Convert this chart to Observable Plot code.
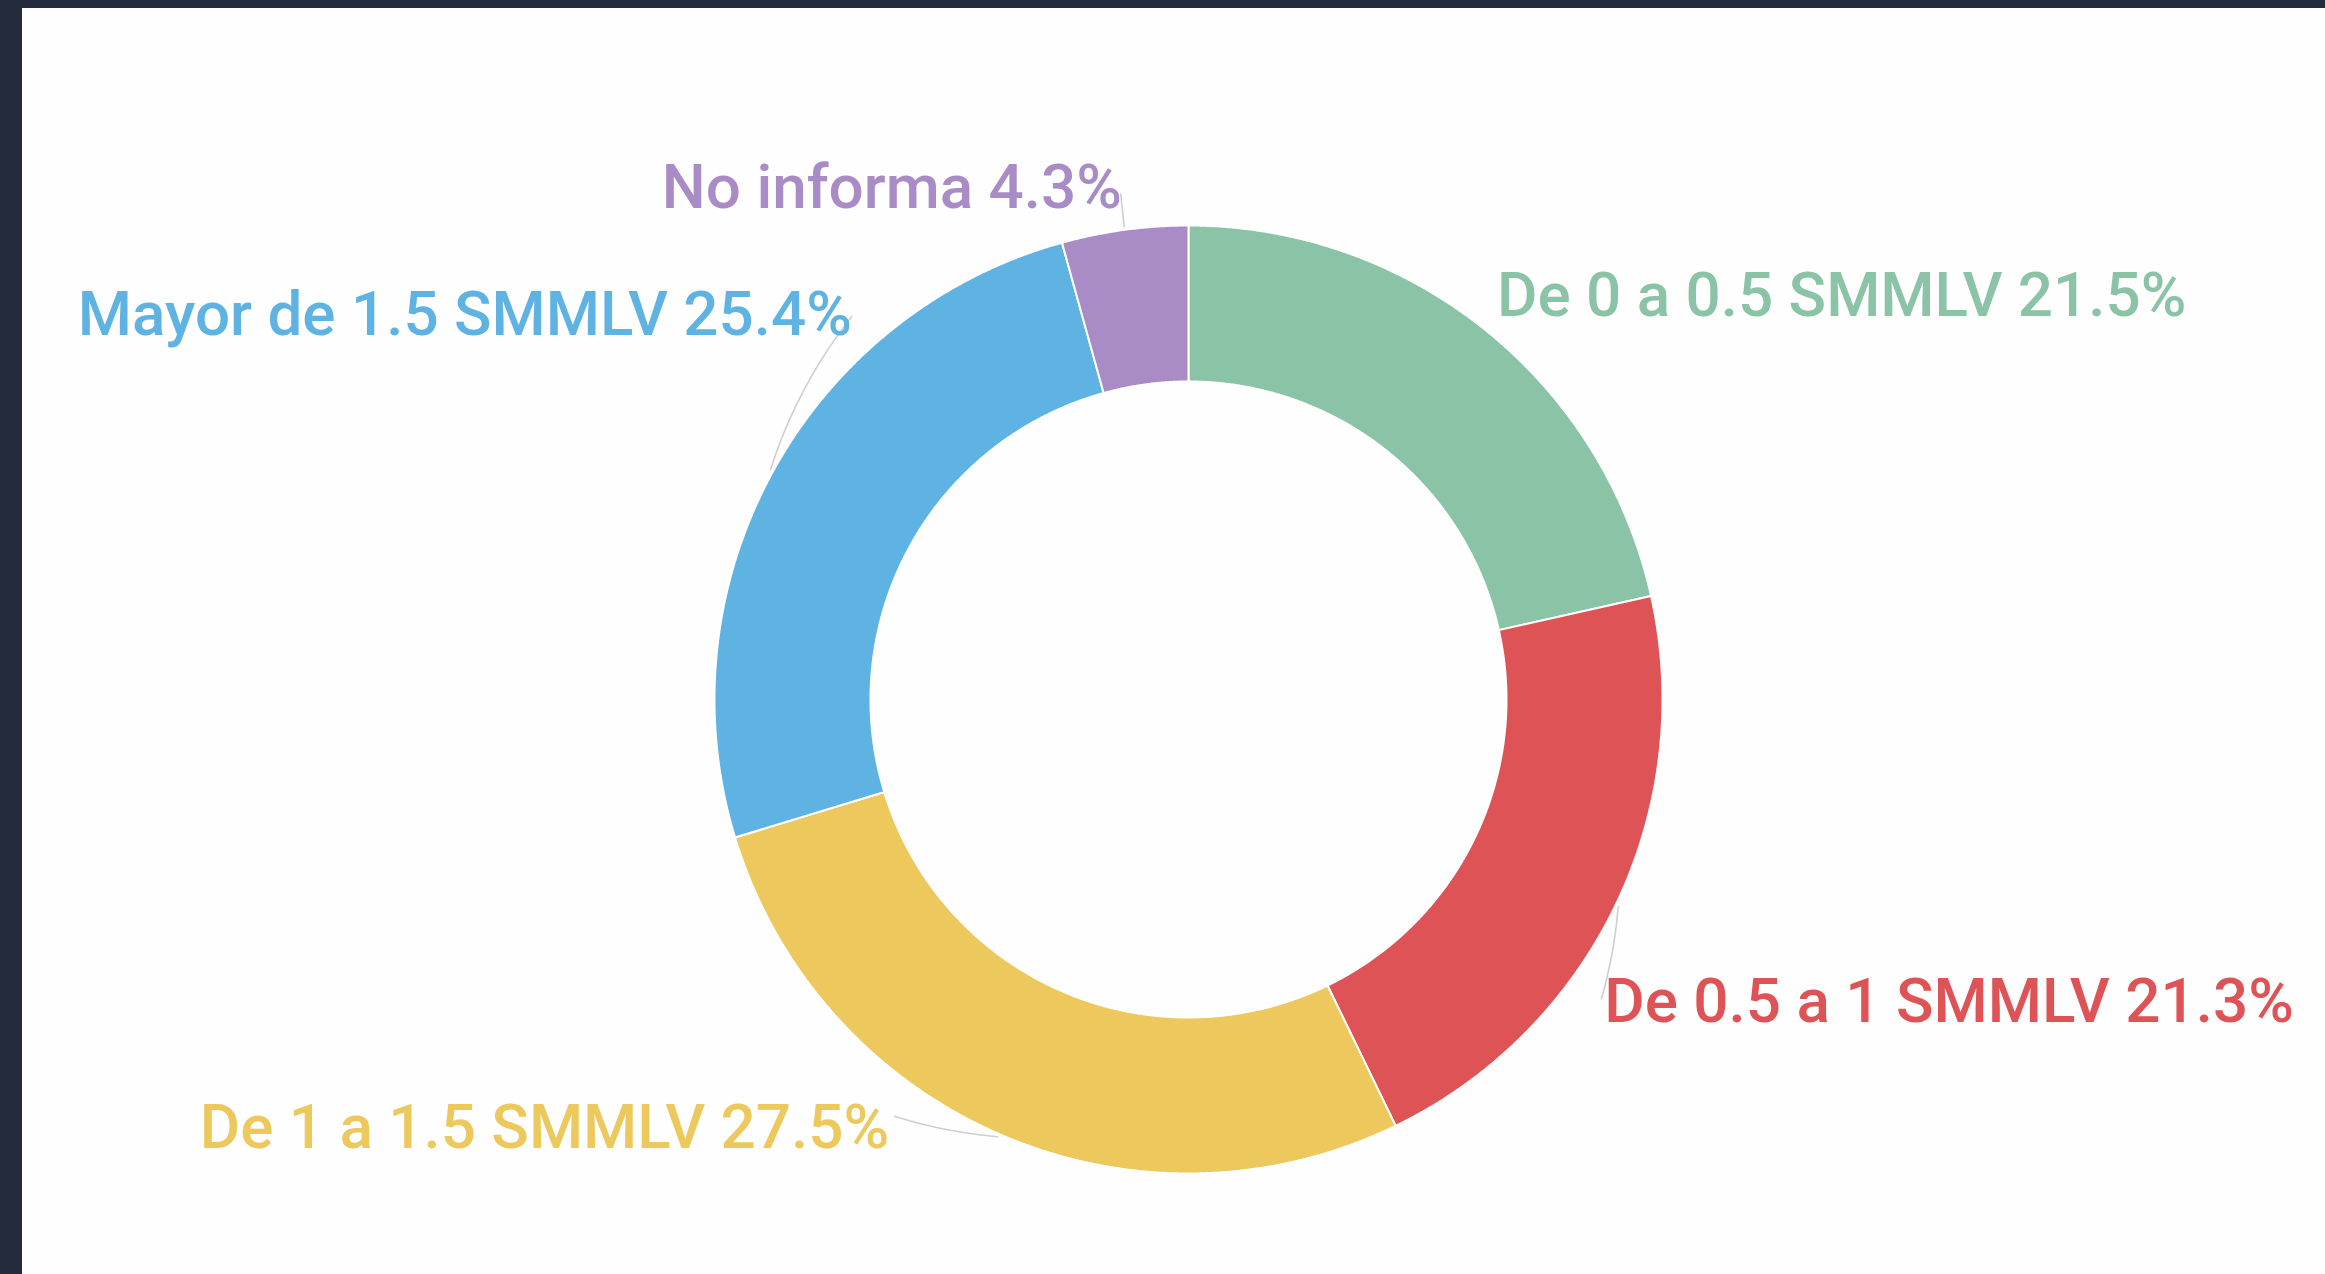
<!DOCTYPE html>
<html><head><meta charset="utf-8">
<script src="https://cdn.jsdelivr.net/npm/d3@7"></script>
<script src="https://cdn.jsdelivr.net/npm/@observablehq/plot@0.6"></script>
<style>
html,body{margin:0;padding:0;background:#232b3c;width:2325px;height:1274px;overflow:hidden}
#frame{position:absolute;left:22px;top:8px;width:2303px;height:1266px;background:#fefefe}
#frame svg{display:block}
</style></head><body><div id="frame"></div>
<script>
// ---- data ----
const categories = ["De 0 a 0.5 SMMLV", "De 0.5 a 1 SMMLV", "De 1 a 1.5 SMMLV", "Mayor de 1.5 SMMLV", "No informa"];
const shares = [21.5, 21.3, 27.5, 25.4, 4.3];
const colors = ["#8bc3a7", "#de5356", "#ecc85d", "#5fb3e3", "#a98cc6"];

// ---- layout ----
const W = 2303, H = 1266;
const cx = 1166, cy = 691;           // donut centre inside the svg
const R = 474, r = 318;              // outer / inner radius (px)
const labelR = 516;                  // radius where labels attach
const labelShiftDeg = [-1.3, 10.2, 11.6, 19.9, 0.1]; // label collision nudge
const labelNudge = [[-7, 7], [-4, 0], [0, 7], [6, 3], [4, 0]]; // fine pixel nudge [dx, dy]
const showLeader = [false, true, true, true, true];
const fontSize = 62;

const rows = categories.map((c, i) => ({category: c, share: shares[i], idx: i}));
const arcs = d3.pie().sort(null).value(d => d.share).startAngle(0).endAngle(2 * Math.PI)(rows);

const polar = (a, rho) => ({x: rho * Math.sin(a), y: rho * Math.cos(a)});

// slice polygons
const slicePts = [];
for (const a of arcs) {
  const n = Math.max(8, Math.ceil((a.endAngle - a.startAngle) / 0.004));
  for (let k = 0; k <= n; k++) {
    const t = a.startAngle + (a.endAngle - a.startAngle) * k / n;
    slicePts.push({category: a.data.category, ...polar(t, R)});
  }
  for (let k = n; k >= 0; k--) {
    const t = a.startAngle + (a.endAngle - a.startAngle) * k / n;
    slicePts.push({category: a.data.category, ...polar(t, r)});
  }
}

// labels + leader lines
const labels = [], leaders = [];
for (const a of arcs) {
  const i = a.data.idx;
  const mid = (a.startAngle + a.endAngle) / 2;
  const la = mid + labelShiftDeg[i] * Math.PI / 180;
  const p = polar(la, labelR);
  labels.push({category: a.data.category, text: `${a.data.category} ${a.data.share}%`,
    right: Math.sin(la) > 0, x: p.x + labelNudge[i][0], y: p.y - labelNudge[i][1]});
  if (!showLeader[i]) continue;
  const m = 6;
  for (let k = 0; k <= m; k++) {
    const t = k / m;
    leaders.push({category: a.data.category, ...polar(mid + (la - mid) * t, R + 3 + (labelR - 6 - R - 3) * t)});
  }
}

const color = {domain: categories, range: colors};
const textOpts = {x: "x", y: "y", text: "text", fill: "category", fontSize, fontWeight: 500,
  fontFamily: "Roboto", lineAnchor: "middle"};

const chart = Plot.plot({
  width: W, height: H, margin: 0,
  x: {domain: [-cx, W - cx], range: [0, W], axis: null},
  y: {domain: [-(H - cy), cy], range: [H, 0], axis: null},
  color,
  style: {background: "transparent", overflow: "visible"},
  marks: [
    Plot.line(leaders, {x: "x", y: "y", z: "category", stroke: "#cfcfcf", strokeWidth: 1.6, curve: "catmull-rom"}),
    Plot.line(slicePts, {x: "x", y: "y", z: "category", fill: "category", stroke: "#ffffff", strokeWidth: 2, curve: "linear-closed"}),
    Plot.text(labels.filter(d => d.right), {...textOpts, textAnchor: "start", dx: 2}),
    Plot.text(labels.filter(d => !d.right), {...textOpts, textAnchor: "end", dx: -2})
  ]
});
document.getElementById("frame").appendChild(chart);
</script></body></html>
